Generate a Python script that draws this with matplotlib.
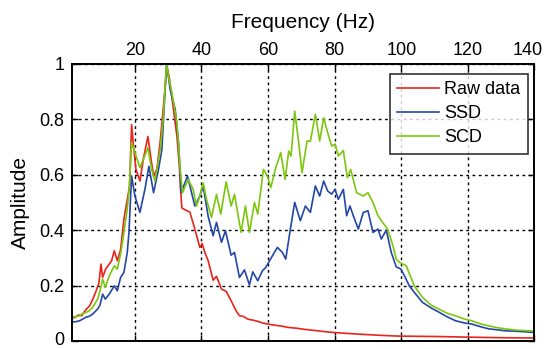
import numpy as np
import matplotlib
matplotlib.use('Agg')
import matplotlib.pyplot as plt
from matplotlib.transforms import ScaledTranslation

plt.rcParams['font.family'] = ['Liberation Sans Narrow', 'Liberation Sans', 'DejaVu Sans']

# Raw data
f_raw = [1, 2, 3, 4, 5, 6.4, 7.3, 8.3, 9.2, 9.8, 10.3, 11.2, 12.3, 13, 13.8, 14.7, 15.7,
         16.7, 17.7, 18.4, 19.0, 19.6, 20.3, 21.5, 22.6, 23.9, 24.8, 25.6, 26.6, 27.6,
         28.6, 29.6, 30.3, 31.1, 32.6, 33.3, 33.7, 34.1, 35.3, 36.5, 38, 39.5, 40.2, 41,
         42, 43.5, 44.5, 46, 47.4, 48.3, 49.4, 50.4, 51.4, 52.5, 53.9, 55.5, 56.9, 58.3,
         60, 62, 64, 66, 68.7, 71, 74, 78.5, 83, 88.6, 93, 98.5, 105, 112, 120, 130, 140]
a_raw = [0.084, 0.086, 0.095, 0.092, 0.11, 0.128, 0.15, 0.18, 0.21, 0.278, 0.23, 0.26,
         0.278, 0.29, 0.326, 0.29, 0.33, 0.44, 0.51, 0.56, 0.78, 0.7, 0.62, 0.577, 0.66,
         0.737, 0.66, 0.595, 0.62, 0.72, 0.85, 0.99, 0.95, 0.88, 0.74, 0.64, 0.55, 0.48,
         0.472, 0.465, 0.404, 0.338, 0.352, 0.32, 0.29, 0.22, 0.234, 0.188, 0.18, 0.16,
         0.134, 0.11, 0.092, 0.09, 0.08, 0.076, 0.072, 0.066, 0.062, 0.058, 0.055, 0.05,
         0.047, 0.043, 0.039, 0.033, 0.029, 0.025, 0.022, 0.019, 0.018, 0.017, 0.015,
         0.013, 0.012]

# SSD
f_ssd = [1, 2, 3.4, 4.3, 5.3, 6.3, 7.3, 8.8, 9.5, 10.3, 11.1, 12.3, 13.8, 14.7, 15.7,
         16.7, 17.7, 18.2, 19.0, 20, 21.5, 23, 24.2, 25.6, 27.1, 28.1, 29.5, 30.6, 32.1,
         33.1, 33.9, 35.8, 38, 39.5, 40.5, 42, 43.5, 44.5, 46, 47.2, 48.9, 49.9, 51.4,
         52.9, 54.4, 55.4, 56.9, 58.3, 59.3, 61.3, 62.8, 64.3, 65.3, 66.7, 68, 69.7, 71.2,
         72.7, 74.2, 75.5, 76.7, 77.9, 79.1, 80.1, 81.1, 82.6, 83.6, 84.6, 85.6, 87.1,
         88.6, 90, 91.5, 93, 94, 95.5, 97, 98.5, 99.9, 101, 102.4, 104, 106.4, 109, 111.3,
         113.5, 116.3, 119, 121.2, 124, 126.2, 128.5, 131.1, 135, 140]
a_ssd = [0.071, 0.07, 0.074, 0.08, 0.087, 0.09, 0.098, 0.116, 0.13, 0.17, 0.152, 0.17,
         0.2, 0.182, 0.23, 0.248, 0.32, 0.39, 0.595, 0.523, 0.464, 0.547, 0.63, 0.535,
         0.62, 0.69, 1.0, 0.906, 0.835, 0.716, 0.535, 0.595, 0.487, 0.523, 0.559, 0.45,
         0.38, 0.428, 0.356, 0.398, 0.31, 0.32, 0.23, 0.257, 0.203, 0.25, 0.218, 0.254,
         0.266, 0.308, 0.338, 0.32, 0.296, 0.404, 0.5, 0.434, 0.487, 0.464, 0.559, 0.523,
         0.577, 0.541, 0.53, 0.547, 0.511, 0.547, 0.452, 0.487, 0.452, 0.404, 0.464, 0.47,
         0.392, 0.404, 0.368, 0.4, 0.32, 0.268, 0.26, 0.235, 0.2, 0.175, 0.14, 0.12, 0.105,
         0.09, 0.074, 0.066, 0.062, 0.052, 0.045, 0.042, 0.038, 0.036, 0.032]

# SCD
f_scd = [1, 2, 3.4, 4.3, 5.3, 6.3, 7.3, 8.8, 9.5, 10.3, 11.1, 12.3, 13.8, 14.7, 15.7,
         16.7, 17.7, 18.3, 19, 20, 21.5, 22.7, 23.9, 25, 26, 27.6, 28.5, 29.5, 30.3, 31.1,
         32.6, 33.6, 34.3, 36, 37.5, 38.5, 39.5, 40.5, 41.5, 43, 44.5, 45.8, 47.4, 48.9,
         49.9, 51.9, 53.2, 54.4, 55.9, 56.9, 58.6, 59.8, 60.8, 62.3, 63.8, 65.1, 66.2,
         66.9, 68, 69.2, 70.2, 71.7, 72.7, 74.2, 75.5, 76.7, 77.9, 79.1, 80.1, 81.1, 82.6,
         83.8, 84.8, 86.6, 88.6, 90, 91.5, 93, 94.4, 95.9, 97.5, 98.5, 99.5, 101.5, 103.9,
         106.4, 109, 111.3, 114, 116.3, 119, 121.2, 124, 126.2, 128.5, 131.1, 135, 140]
a_scd = [0.09, 0.088, 0.092, 0.1, 0.104, 0.11, 0.122, 0.152, 0.18, 0.224, 0.194, 0.236,
         0.272, 0.26, 0.314, 0.392, 0.476, 0.55, 0.715, 0.68, 0.625, 0.66, 0.697, 0.62,
         0.577, 0.69, 0.8, 1.0, 0.94, 0.895, 0.79, 0.62, 0.535, 0.583, 0.547, 0.487, 0.523,
         0.571, 0.511, 0.446, 0.529, 0.458, 0.574, 0.487, 0.529, 0.392, 0.487, 0.392, 0.5,
         0.458, 0.619, 0.595, 0.553, 0.625, 0.679, 0.583, 0.685, 0.667, 0.829, 0.715,
         0.607, 0.721, 0.72, 0.817, 0.721, 0.805, 0.751, 0.703, 0.71, 0.667, 0.687, 0.589,
         0.619, 0.535, 0.523, 0.535, 0.5, 0.452, 0.428, 0.404, 0.344, 0.296, 0.284, 0.272,
         0.2, 0.158, 0.13, 0.116, 0.1, 0.092, 0.08, 0.074, 0.062, 0.056, 0.05, 0.045, 0.04,
         0.037]

x_ticks = [20, 40, 60, 80, 100, 120, 140]
y_ticks = [0, 0.2, 0.4, 0.6, 0.8, 1]
y_tick_labels = ['0', '0.2', '0.4', '0.6', '0.8', '1']

fig = plt.figure(figsize=(5.47, 3.49), dpi=100)
ax = fig.add_axes([0.131, 0.022, 0.846, 0.796])

ax.plot(f_raw, a_raw, color='#e8241c', lw=1.2, label='Raw data')
ax.plot(f_ssd, a_ssd, color='#2446a8', lw=1.2, label='SSD')
ax.plot(f_scd, a_scd, color='#7cc70e', lw=1.2, label='SCD')

ax.set_xlim(1, 140)
ax.set_ylim(0, 1)
ax.set_xticks(x_ticks)
ax.set_yticks(y_ticks)
ax.set_yticklabels(y_tick_labels)
ax.grid(True, color='black', linestyle=(0, (2, 2.5)), lw=1.0)

# eixo x em cima, ticks para dentro (estilo MATLAB)
ax.xaxis.tick_top()
ax.xaxis.set_label_position('top')
ax.tick_params(direction='in', length=4, width=1, top=True, bottom=True,
               left=True, right=True, labelsize=13)
ax.tick_params(axis='x', pad=3.5)
ax.tick_params(axis='y', pad=5)
for s in ax.spines.values():
    s.set_linewidth(1.4)

# desloca os rótulos das pontas para dentro da figura
lbl = ax.get_xticklabels()[-1]
lbl.set_transform(lbl.get_transform() + ScaledTranslation(-5 / 72, 0, fig.dpi_scale_trans))
lbl0 = ax.get_yticklabels()[0]
lbl0.set_transform(lbl0.get_transform() + ScaledTranslation(0, 2 / 72, fig.dpi_scale_trans))

ax.set_xlabel('Frequency (Hz)', fontsize=15, labelpad=10)
ax.set_ylabel('Amplitude', fontsize=15, labelpad=7)

leg = ax.legend(loc='upper right', bbox_to_anchor=(0.9856, 0.963), borderaxespad=0,
                fontsize=13, frameon=True, fancybox=False, handlelength=2.3,
                borderpad=0.4, labelspacing=0.4, handletextpad=0.3)
leg.get_frame().set_edgecolor('black')
leg.get_frame().set_linewidth(1.2)

fig.savefig('out.png', dpi=100)
